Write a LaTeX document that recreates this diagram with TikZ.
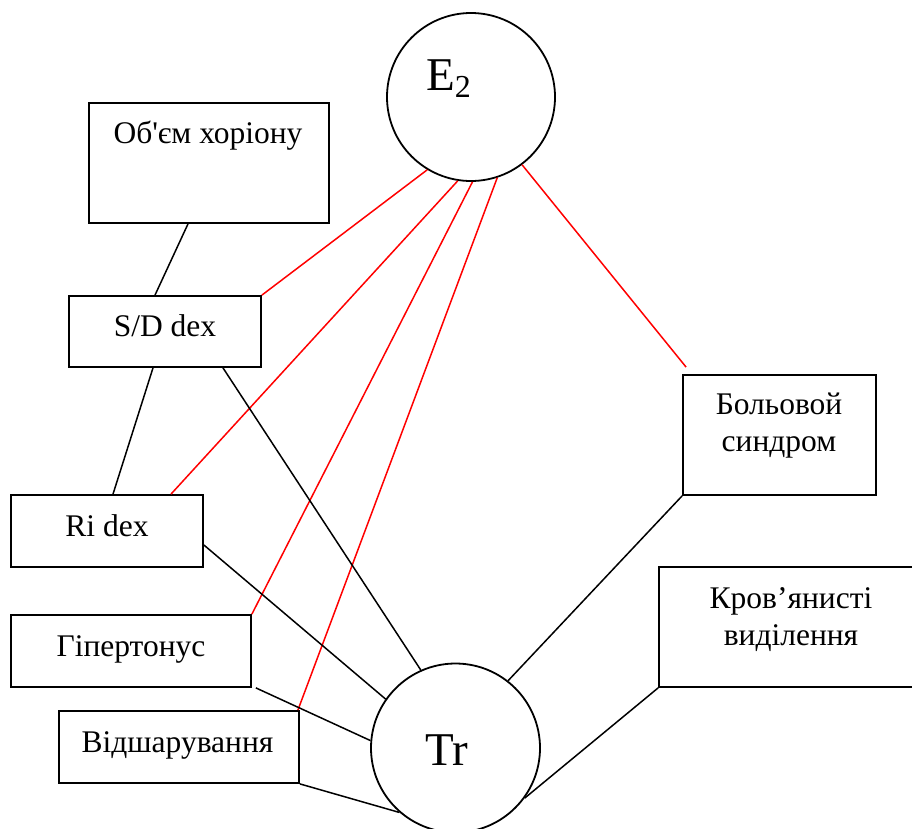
\documentclass[tikz,border=0pt]{standalone}
\usepackage{fontspec}
\setmainfont{Liberation Serif}[Ligatures=TeXOff]
\begin{document}
\begin{tikzpicture}[x=1pt,y=-1pt,
  box/.style={draw, line width=1.8pt, inner sep=0pt},
  circ/.style={draw, circle, line width=1.8pt, inner sep=0pt, minimum size=#1},
  lbl/.style={anchor=base, inner sep=0pt, font=\fontsize{31.5}{37}\selectfont, align=center},
  big/.style={inner sep=0pt, font=\fontsize{47}{50}\selectfont},
  redline/.style={draw=red, line width=1.5pt},
  blkline/.style={draw=black, line width=1.5pt}]
\useasboundingbox (0,0) rectangle (912,828);
\fill[white] (0,0) rectangle (912,828);

% boxes
\node[box, minimum width=240pt, minimum height=120pt] (obj) at (209,163) {};
\node[box, minimum width=192pt, minimum height=71pt] (sd) at (165,331.5) {};
\node[box, minimum width=192pt, minimum height=72pt] (ri) at (107,531) {};
\node[box, minimum width=240pt, minimum height=72pt] (gip) at (131,651) {};
\node[box, minimum width=240pt, minimum height=72pt] (vid) at (179,747) {};
\node[box, minimum width=193pt, minimum height=120pt] (bol) at (779.5,435) {};
\node[box, minimum width=263pt, minimum height=120pt] (krov) at (790.5,627) {};

% circles
\node[circ=168pt] (e2) at (471,97) {};
\node[circ=169pt] (tr) at (455.5,748) {};

% texts
\node[lbl] (objt) at (208,143) {Об'єм хоріону};
\node[lbl] (sdt) at (165,336) {S/D dex};
\node[lbl] (rit) at (107,536) {Ri dex};
\node[lbl] (gipt) at (131,656) {Гіпертонус};
\node[lbl] (vidt) at (177.5,752) {Відшарування};
\node[lbl] (bolt) at (779,451) {Больовой\\синдром};
\node[lbl] (krovt) at (791,645) {Кров’янисті\\виділення};
\node[big, anchor=base west] (e2t) at (426,90) {E\raisebox{-7pt}{\fontsize{32}{32}\selectfont 2}};
\node[big, anchor=base] (trt) at (447,765) {Tr};

% red connectors
\draw[redline] (e2.239) -- (sd.north east);
\draw[redline] (e2.261) -- ([xshift=64pt]ri.north);
\draw[redline] (e2.271) -- (gip.north east);
\draw[redline] (e2.288) -- ([xshift=-2pt]vid.north east);
\draw[redline] (e2.307) -- ([xshift=4pt,yshift=7pt]bol.north west);

% black connectors
\draw[blkline] ([xshift=-21pt]obj.south) -- ([xshift=-10pt]sd.north);
\draw[blkline] ([xshift=-12pt]sd.south) -- ([xshift=6pt]ri.north);
\draw[blkline] ([xshift=58pt]sd.south) -- (tr.114);
\draw[blkline] ([yshift=-14pt]ri.east) -- (tr.145);
\draw[blkline] ([xshift=4pt]gip.south east) -- (tr.175);
\draw[blkline] (vid.south east) -- (tr.229);
\draw[blkline] (bol.south west) -- (tr.52);
\draw[blkline] (krov.south west) -- (tr.324);
\end{tikzpicture}
\end{document}
